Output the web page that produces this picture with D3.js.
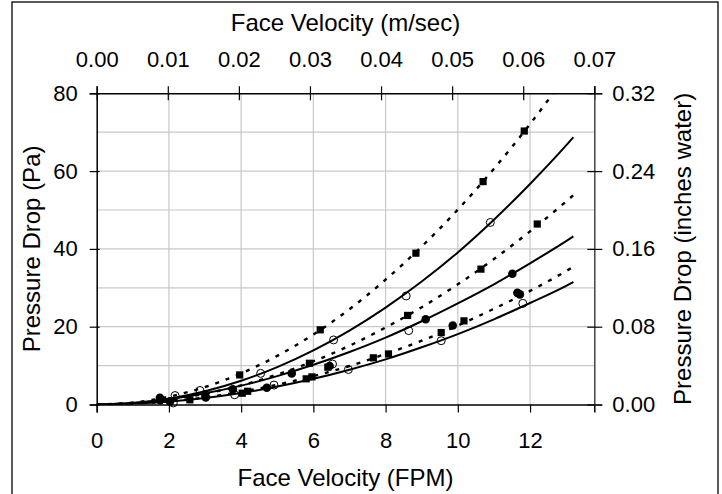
<!DOCTYPE html>
<html>
<head>
<meta charset="utf-8">
<script src="https://cdn.jsdelivr.net/npm/d3@7"></script>
<style>
  html, body { margin: 0; padding: 0; background: #fff; }
  svg { display: block; font-family: "Liberation Sans", Arial, sans-serif; }
</style>
</head>
<body>
<svg id="chart" width="722" height="494"></svg>
<script>
// ---- Data ----
const xTicksFPM = [0, 2, 4, 6, 8, 10, 12];
const xTicksMS = [0, 0.01, 0.02, 0.03, 0.04, 0.05, 0.06, 0.07];
const yTicksPa = [0, 20, 40, 60, 80];
const yTicksIn = [0, 0.08, 0.16, 0.24, 0.32];
const yGridPa = [10, 20, 30, 40, 50, 60, 70];
const xGridFPM = [2, 4, 6, 8, 10, 12];

// curve sample velocities (FPM)
const curveV = [0, 1, 2, 3, 4, 5, 6, 7, 8, 9, 10, 11, 12, 13, 13.2];
// solid lines
const solid1 = [0, 0.37, 1.49, 3.4, 6.1, 9.6, 13.9, 19.0, 24.9, 31.6, 39.1, 47.5, 56.7, 66.6, 68.7];
const solid2 = [0, 0.38, 1.37, 2.87, 4.85, 7.3, 10.2, 13.5, 17.2, 21.4, 26.0, 30.9, 36.3, 42.0, 43.2];
const solid3 = [0, 0.19, 0.75, 1.67, 2.95, 4.6, 6.6, 8.95, 11.6, 14.7, 18.1, 21.9, 26.1, 30.5, 31.5];
// dotted lines
const dottedV1 = [0, 1, 2, 3, 4, 5, 6, 7, 8, 9, 10, 11, 12, 12.64];
const dotted1 = [0, 0.5, 2.0, 4.5, 8.0, 12.5, 18.0, 24.5, 32.1, 40.6, 50.1, 60.6, 72.1, 80.0];
const dotted2 = [0, 0.31, 1.24, 2.8, 4.9, 7.7, 11.1, 15.1, 19.8, 25.0, 30.9, 37.4, 44.5, 52.2, 53.8];
const dotted3 = [0, 0.2, 0.81, 1.83, 3.25, 5.1, 7.3, 9.9, 13.0, 16.4, 20.3, 24.6, 29.2, 34.3, 35.4];

// markers: filled squares
const sqV  = [2.58, 4.03, 4.18, 5.80, 5.96, 7.66, 8.08, 9.54, 10.17, 3.96, 6.19, 8.84, 10.70, 11.84, 5.89, 8.61, 10.64, 12.20, 6.40];
const sqP  = [1.2,  2.9,  3.4,  6.6,  7.1,  12.0, 13.0, 18.5, 21.5,  7.6,  19.2, 38.9, 57.3,  70.3,  10.6, 22.9, 34.8,  46.4, 9.6];
// markers: filled circles
const fcV  = [1.75, 1.76, 2.03, 3.00, 3.02, 3.77, 4.71, 5.40, 6.45, 9.11, 9.86, 11.51, 11.65, 11.72];
const fcP  = [1.7,  1.1,  0.8,  2.6,  1.8,  3.9,  4.3,  8.0,  9.9,  21.9, 20.3, 33.6,  28.7,  28.3];
// markers: open circles
const ocV  = [2.17, 2.12, 2.86, 3.82, 4.54, 4.91, 6.53, 6.56, 6.97, 8.57, 8.64, 9.54, 10.90, 11.80];
const ocP  = [2.3,  0.4,  3.6,  2.5,  8.0,  5.0,  10.4, 16.6, 9.0,  27.9, 19.0, 16.4, 46.8,  26.0];

// ---- Layout ----
const svg = d3.select("#chart");
const X0 = 96.7, X1 = 594.3, Y0 = 404.5, Y1 = 93.3;
const xMaxFPM = 0.07 / 0.00508;
const x = d3.scaleLinear().domain([0, xMaxFPM]).range([X0, X1]);
const xTop = d3.scaleLinear().domain([0, 0.07]).range([X0, X1]);
const y = d3.scaleLinear().domain([0, 80]).range([Y0, Y1]);
const yR = d3.scaleLinear().domain([0, 0.32]).range([Y0, Y1]);
const FS = 22, TS = 24;

// outer frame
svg.append("rect").attr("x", 12).attr("y", 2).attr("width", 706).attr("height", 520)
  .attr("fill", "none").attr("stroke", "#000").attr("stroke-width", 1.3);

// gridlines
svg.append("g").selectAll("line").data(yGridPa).join("line")
  .attr("x1", X0).attr("x2", X1).attr("y1", d => y(d)).attr("y2", d => y(d))
  .attr("stroke", "#c8c8c8").attr("stroke-width", 1.2);
svg.append("g").selectAll("line").data(xGridFPM).join("line")
  .attr("y1", Y0).attr("y2", Y1).attr("x1", d => x(d)).attr("x2", d => x(d))
  .attr("stroke", "#c8c8c8").attr("stroke-width", 1.2);

// clip
svg.append("clipPath").attr("id", "clip").append("rect")
  .attr("x", X0).attr("y", Y1).attr("width", X1 - X0).attr("height", Y0 - Y1);

const plot = svg.append("g").attr("clip-path", "url(#clip)");
const line = d3.line().x(d => x(d[0])).y(d => y(d[1])).curve(d3.curveMonotoneX);

function addLine(vs, ps, dashed) {
  plot.append("path").datum(vs.map((v, i) => [v, ps[i]]))
    .attr("d", line).attr("fill", "none").attr("stroke", "#000")
    .attr("stroke-width", dashed ? 2.4 : 2)
    .attr("stroke-dasharray", dashed ? "4,7" : null);
}
addLine(dottedV1, dotted1, true);
addLine(curveV, dotted2, true);
addLine(curveV, dotted3, true);
addLine(curveV, solid1, false);
addLine(curveV, solid2, false);
addLine(curveV, solid3, false);

// markers
const mk = svg.append("g");
mk.selectAll("rect").data(sqV.map((v, i) => [v, sqP[i]])).join("rect")
  .attr("x", d => x(d[0]) - 3.6).attr("y", d => y(d[1]) - 3.6)
  .attr("width", 7.2).attr("height", 7.2).attr("fill", "#000");
mk.selectAll("circle.fc").data(fcV.map((v, i) => [v, fcP[i]])).join("circle")
  .attr("class", "fc").attr("cx", d => x(d[0])).attr("cy", d => y(d[1])).attr("r", 4.3).attr("fill", "#000");
mk.selectAll("circle.oc").data(ocV.map((v, i) => [v, ocP[i]])).join("circle")
  .attr("class", "oc").attr("cx", d => x(d[0])).attr("cy", d => y(d[1])).attr("r", 4)
  .attr("fill", "none").attr("stroke", "#000").attr("stroke-width", 1);

// axes
function styleAxis(g) {
  g.select(".domain").attr("stroke", "#000").attr("stroke-width", 1.5);
  g.selectAll(".tick line").attr("stroke", "#000").attr("stroke-width", 1.2);
  g.selectAll("text").attr("font-size", FS).attr("fill", "#000")
    .attr("font-family", "'Liberation Sans', Arial, sans-serif");
}
const gB = svg.append("g").attr("transform", `translate(0,${Y0})`)
  .call(d3.axisBottom(x).tickValues(xTicksFPM).tickFormat(d3.format("d")).tickSizeOuter(0).tickSize(8).tickPadding(20));
styleAxis(gB);
const gT = svg.append("g").attr("transform", `translate(0,${Y1})`)
  .call(d3.axisTop(xTop).tickValues(xTicksMS).tickFormat(d3.format(".2f")).tickSizeOuter(0).tickSize(7).tickPadding(19));
styleAxis(gT);
gT.selectAll(".tick line").attr("y2", -7).attr("y1", 7);
const gL = svg.append("g").attr("transform", `translate(${X0},0)`)
  .call(d3.axisLeft(y).tickValues(yTicksPa).tickFormat(d3.format("d")).tickSizeOuter(0).tickSize(7).tickPadding(12));
styleAxis(gL);
gL.selectAll(".tick line").attr("x1", 3);
const gR = svg.append("g").attr("transform", `translate(${X1},0)`)
  .call(d3.axisRight(yR).tickValues(yTicksIn).tickFormat(d3.format(".2f")).tickSizeOuter(0).tickSize(8).tickPadding(10));
styleAxis(gR);
gR.selectAll(".tick line").attr("x1", -7);
gR.select(".domain").attr("stroke", "#444");

// titles
const cx = (X0 + X1) / 2, cy = (Y0 + Y1) / 2;
svg.append("text").attr("x", cx).attr("y", 31).attr("text-anchor", "middle")
  .attr("font-size", TS).text("Face Velocity (m/sec)");
svg.append("text").attr("x", cx).attr("y", 486).attr("text-anchor", "middle")
  .attr("font-size", TS).text("Face Velocity (FPM)");
svg.append("text").attr("transform", `translate(40,${cy}) rotate(-90)`).attr("text-anchor", "middle")
  .attr("font-size", TS).text("Pressure Drop (Pa)");
svg.append("text").attr("transform", `translate(691,${cy}) rotate(-90)`).attr("text-anchor", "middle")
  .attr("font-size", TS).text("Pressure Drop (inches water)");
</script>
</body>
</html>
